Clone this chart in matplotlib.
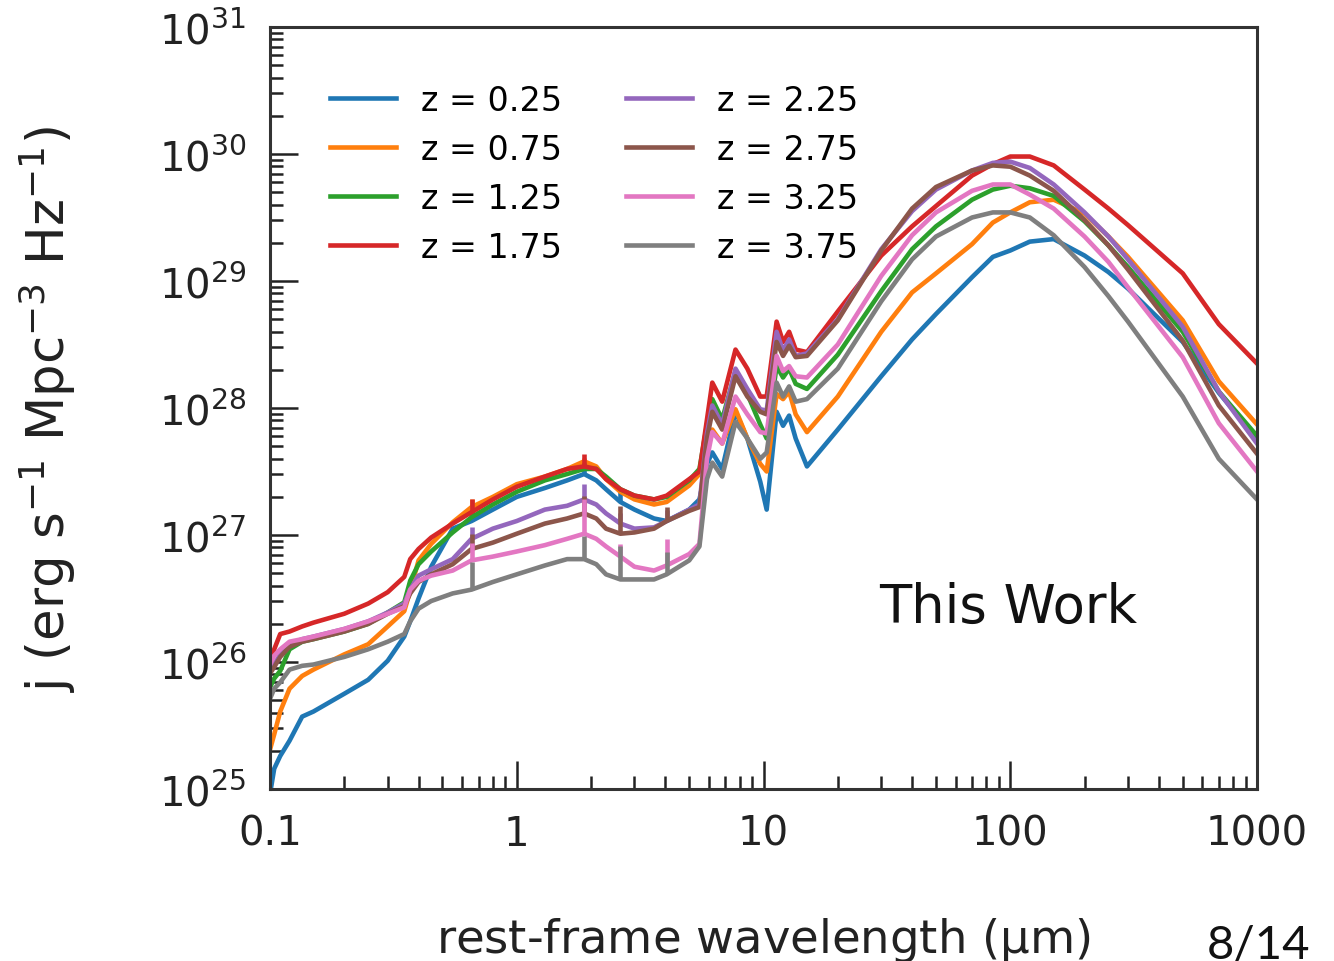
import numpy as np
import matplotlib
matplotlib.use("Agg")
import matplotlib.pyplot as plt
from matplotlib.ticker import LogLocator, NullFormatter

# rest-frame wavelength grid (micron)
wavelength = [0.100, 0.104, 0.11, 0.12, 0.135, 0.15, 0.2, 0.25, 0.3, 0.35,
              0.37, 0.4, 0.45, 0.55, 0.656, 0.8, 1.0, 1.3, 1.6, 1.875,
              2.1, 2.3, 2.63, 3.0, 3.6, 4.05, 5.0, 5.5, 5.9, 6.2,
              6.8, 7.7, 8.6, 9.7, 10.3, 11.3, 12.0, 12.7, 13.5, 15,
              20, 30, 40, 50, 70, 85, 100, 120, 150, 200,
              250, 300, 500, 700, 1000]

redshifts = [0.25, 0.75, 1.25, 1.75, 2.25, 2.75, 3.25, 3.75]

# log10 of the emissivity j (erg s^-1 Mpc^-3 Hz^-1)
log_j_z025 = [24.96, 25.16, 25.26, 25.38, 25.57, 25.61, 25.75, 25.86, 26.01, 26.20,
              26.32, 26.50, 26.75, 27.05, 27.11, 27.20, 27.30, 27.37, 27.43, 27.48,
              27.43, 27.36, 27.26, 27.20, 27.13, 27.11, 27.20, 27.28, 27.56, 27.65,
              27.52, 27.97, 27.76, 27.42, 27.20, 27.97, 27.86, 27.94, 27.76, 27.54,
              27.83, 28.25, 28.54, 28.74, 29.03, 29.19, 29.24, 29.31, 29.33, 29.20,
              29.07, 28.94, 28.52, 28.12, 27.76]
log_j_z075 = [25.31, 25.43, 25.61, 25.79, 25.89, 25.94, 26.06, 26.14, 26.28, 26.40,
              26.56, 26.80, 26.93, 27.10, 27.22, 27.30, 27.40, 27.46, 27.52, 27.58,
              27.54, 27.44, 27.34, 27.28, 27.24, 27.26, 27.39, 27.48, 27.76, 27.83,
              27.72, 27.99, 27.76, 27.56, 27.50, 28.11, 28.07, 28.13, 27.95, 27.81,
              28.09, 28.60, 28.91, 29.06, 29.29, 29.46, 29.54, 29.62, 29.64, 29.53,
              29.35, 29.19, 28.69, 28.21, 27.87]
log_j_z125 = [25.80, 25.87, 25.93, 26.10, 26.16, 26.18, 26.24, 26.30, 26.39, 26.47,
              26.64, 26.77, 26.87, 27.02, 27.14, 27.24, 27.34, 27.43, 27.48, 27.52,
              27.52, 27.46, 27.36, 27.31, 27.28, 27.30, 27.43, 27.52, 27.87, 28.07,
              27.91, 28.29, 28.11, 27.87, 27.76, 28.33, 28.24, 28.31, 28.19, 28.15,
              28.42, 28.92, 29.25, 29.43, 29.64, 29.72, 29.75, 29.73, 29.67, 29.47,
              29.28, 29.11, 28.60, 28.13, 27.78]
log_j_z175 = [26.01, 26.10, 26.22, 26.24, 26.28, 26.31, 26.38, 26.46, 26.55, 26.67,
              26.81, 26.89, 26.98, 27.09, 27.18, 27.28, 27.38, 27.46, 27.52, 27.54,
              27.52, 27.44, 27.36, 27.31, 27.28, 27.31, 27.44, 27.50, 27.91, 28.20,
              28.05, 28.46, 28.31, 28.09, 28.09, 28.68, 28.52, 28.60, 28.46, 28.44,
              28.76, 29.20, 29.43, 29.59, 29.83, 29.92, 29.98, 29.98, 29.91, 29.72,
              29.57, 29.44, 29.06, 28.66, 28.35]
log_j_z225 = [25.93, 25.98, 26.06, 26.14, 26.18, 26.20, 26.26, 26.32, 26.39, 26.46,
              26.57, 26.68, 26.73, 26.81, 26.97, 27.05, 27.11, 27.20, 27.23, 27.28,
              27.24, 27.17, 27.09, 27.05, 27.06, 27.11, 27.20, 27.24, 27.80, 28.02,
              27.87, 28.31, 28.15, 27.99, 27.98, 28.60, 28.45, 28.54, 28.41, 28.43,
              28.70, 29.25, 29.55, 29.72, 29.87, 29.93, 29.94, 29.89, 29.76, 29.54,
              29.35, 29.17, 28.64, 28.13, 27.72]
log_j_z275 = [25.91, 25.96, 26.04, 26.12, 26.16, 26.18, 26.24, 26.30, 26.38, 26.44,
              26.54, 26.63, 26.69, 26.77, 26.89, 26.94, 27.01, 27.09, 27.13, 27.17,
              27.13, 27.05, 27.01, 27.02, 27.05, 27.11, 27.19, 27.22, 27.76, 27.97,
              27.83, 28.25, 28.09, 27.97, 27.95, 28.52, 28.41, 28.49, 28.40, 28.41,
              28.69, 29.24, 29.57, 29.74, 29.87, 29.91, 29.90, 29.83, 29.71, 29.48,
              29.28, 29.09, 28.53, 28.02, 27.64]
log_j_z325 = [25.98, 26.05, 26.10, 26.16, 26.18, 26.20, 26.26, 26.32, 26.38, 26.43,
              26.57, 26.64, 26.68, 26.72, 26.80, 26.83, 26.87, 26.92, 26.97, 27.01,
              26.97, 26.91, 26.83, 26.75, 26.72, 26.76, 26.85, 26.93, 27.60, 27.81,
              27.72, 28.09, 27.95, 27.81, 27.80, 28.41, 28.29, 28.33, 28.25, 28.24,
              28.50, 29.04, 29.36, 29.54, 29.71, 29.76, 29.76, 29.68, 29.57, 29.35,
              29.15, 28.95, 28.40, 27.88, 27.50]
log_j_z375 = [25.71, 25.79, 25.84, 25.94, 25.97, 25.98, 26.04, 26.10, 26.16, 26.22,
              26.32, 26.42, 26.48, 26.54, 26.57, 26.63, 26.69, 26.76, 26.81, 26.81,
              26.77, 26.69, 26.65, 26.65, 26.65, 26.69, 26.80, 26.91, 27.44, 27.57,
              27.46, 27.89, 27.76, 27.60, 27.65, 28.20, 28.09, 28.17, 28.05, 28.07,
              28.31, 28.84, 29.17, 29.35, 29.50, 29.54, 29.54, 29.50, 29.36, 29.11,
              28.88, 28.68, 28.09, 27.60, 27.28]

# emission lines (H-alpha, Pa-alpha, Br-beta, Br-alpha): log10 j at line peak
line_wavelength = [0.656, 1.875, 2.63, 4.05]
line_peak_z025 = [27.17, 27.52, 27.34, np.nan]
line_peak_z075 = [27.28, 27.61, np.nan, np.nan]
line_peak_z125 = [27.20, 27.57, np.nan, np.nan]
line_peak_z175 = [27.28, 27.64, np.nan, np.nan]
line_peak_z225 = [27.06, 27.40, 27.17, 27.20]
line_peak_z275 = [27.01, 27.31, 27.23, 27.22]
line_peak_z325 = [26.94, 27.28, 26.93, 26.97]
line_peak_z375 = [26.79, 26.99, 26.91, 26.87]

curves = [log_j_z025, log_j_z075, log_j_z125, log_j_z175,
          log_j_z225, log_j_z275, log_j_z325, log_j_z375]
peaks = [line_peak_z025, line_peak_z075, line_peak_z125, line_peak_z175,
         line_peak_z225, line_peak_z275, line_peak_z325, line_peak_z375]

fig = plt.figure(figsize=(13.34, 9.62), dpi=100)
ax = fig.add_axes([0.2024, 0.1788, 0.7399, 0.7921])

wl = np.array(wavelength)
for i, (z, logj, peak) in enumerate(zip(redshifts, curves, peaks)):
    color = "C%d" % i
    ax.plot(wl, 10 ** np.array(logj), color=color, lw=3.3,
            label="z = %.2f" % z, solid_joinstyle="round")
    for lw_line, p in zip(line_wavelength, peak):
        if np.isnan(p):
            continue
        base = logj[wavelength.index(lw_line)]
        ax.vlines(lw_line, 10 ** base, 10 ** p, color=color, lw=3.3)

ax.set_xscale("log")
ax.set_yscale("log")
ax.set_xlim(0.1, 1000)
ax.set_ylim(1e25, 1e31)

ax.set_xticks([0.1, 1, 10, 100, 1000])
ax.set_xticklabels(["0.1", "1", "10", "100", "1000"])
ax.xaxis.set_minor_locator(LogLocator(base=10, subs=np.arange(2, 10)))
ax.xaxis.set_minor_formatter(NullFormatter())
ax.yaxis.set_major_locator(LogLocator(base=10, numticks=10))
ax.yaxis.set_minor_locator(LogLocator(base=10, subs=np.arange(2, 10), numticks=20))
ax.yaxis.set_minor_formatter(NullFormatter())

ax.tick_params(which="major", direction="in", length=20, width=1.8,
               labelsize=29, colors="#222222", labelcolor="#222222")
ax.tick_params(which="minor", direction="in", length=9.5, width=1.8,
               colors="#222222")
ax.tick_params(axis="x", which="major", pad=18)
ax.tick_params(axis="y", which="major", pad=17)
for sp in ax.spines.values():
    sp.set_linewidth(2.2)
    sp.set_color("#333333")

ax.set_ylabel(r"j (erg s$^{-1}$ Mpc$^{-3}$ Hz$^{-1}$)", fontsize=37,
              labelpad=58, color="#222222")
ax.set_xlabel(r"rest-frame wavelength ($\mathregular{\mu}$m)", fontsize=33.5,
              labelpad=44, color="#222222")

ax.text(0.748, 0.239, "This Work", transform=ax.transAxes, fontsize=38,
        ha="center", va="center", color="#111111")

ax.legend(loc="upper left", bbox_to_anchor=(0.03, 0.965), ncol=2, frameon=False,
          fontsize=24, handlelength=2.0, handletextpad=0.75, columnspacing=1.9,
          labelspacing=0.48)

fig.text(0.982, 0.004, "8/14", fontsize=34, family=["Lato", "DejaVu Sans"],
         ha="right", va="baseline", color="#111111")

fig.savefig("out.png", dpi=100)
